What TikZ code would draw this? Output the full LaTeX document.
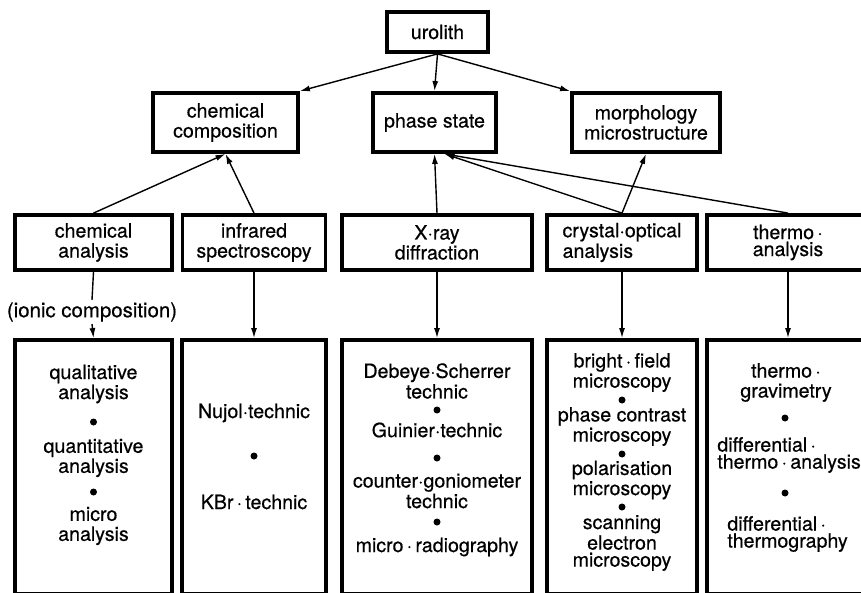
\documentclass[tikz,border=0pt]{standalone}
\usepackage{fontspec}
\setmainfont{TeX Gyre Heros}[FakeBold=0.5]
\usetikzlibrary{arrows.meta,calc,positioning}

\begin{document}
\begin{tikzpicture}[
  x=0.5pt, y=-0.5pt,
  every node/.style={font=\fontsize{9.8}{10}\selectfont},
  box/.style={draw=black,line width=1.9pt,inner sep=0pt,align=center},
  topbox/.style={box,minimum height=29.5pt},
  methbox/.style={box,minimum height=27.5pt},
  listbox/.style={box,minimum height=127pt},
  item/.style={align=center,inner sep=0pt},
  tight/.style={item,font=\fontsize{9.8}{8.5}\selectfont},
  bullet/.style={circle,fill=black,inner sep=0pt,minimum size=3.5pt},
  link/.style={-{Latex[length=5pt,width=3pt]},line width=0.7pt}
]
\useasboundingbox (0,0) rectangle (861,593);
\clip (0,0) rectangle (861,593);

% stone and the three things looked at
\node[box,minimum width=50.5pt,minimum height=20pt] (uro) at (437.5,32) {urolith};
\node[topbox,minimum width=72.5pt] (chem)  at (225.5,122.5) {chemical\\composition};
\node[topbox,minimum width=61.5pt] (phase) at (434.5,122.5) {phase state};
\node[topbox,minimum width=74pt]   (morph) at (646,122.5)   {morphology\\microstructure};

% methods
\node[methbox,minimum width=78.5pt] (ca)  at (93.5,242.5) {chemical\\analysis};
\node[methbox,minimum width=71.5pt] (ir)  at (254,242.5)  {infrared\\spectroscopy};
\node[methbox,minimum width=95pt]   (xrd) at (437,242.5)  {X·ray\\diffraction};
\node[methbox,minimum width=75pt,align=left,font=\fontsize{9.8}{8.5}\selectfont]
  (cop) at (622,242.5) {crystal·optical\\analysis};
\node[methbox,minimum width=81pt,font=\fontsize{9.8}{8.5}\selectfont]
  (tha) at (788,242.5) {thermo\,·\\analysis};

\node[inner sep=1pt,font=\fontsize{10.2}{11}\selectfont] (ionic) at (92,312) {(ionic composition)};

% technique lists
\node[listbox,minimum width=78.5pt] (caL)  at (93.5,467) {};
\node[listbox,minimum width=72pt]   (irL)  at (254,467)  {};
\node[listbox,minimum width=95pt]   (xrdL) at (437,467)  {};
\node[listbox,minimum width=75pt]   (copL) at (622,467)  {};
\node[listbox,minimum width=81pt]   (thaL) at (788,467)  {};

% arrows
\draw[link] (uro.south) -- (chem.north east);
\draw[link] (uro.south) -- (phase.north);
\draw[link] (uro.south) -- (morph.north west);
\draw[link] (ca.north) -- (chem.south);
\draw[link] (ir.north) -- (chem.south);
\draw[link] (xrd.north) -- (phase.south);
\draw[link] (cop.north) -- ($(phase.south)+(10,0)$);
\draw[link] (tha.north) -- ($(phase.south)+(10,0)$);
\draw[link] (cop.north) -- (morph.south);

\draw[line width=0.7pt] (ca.south) -- (ionic.north);
\draw[link] (ionic.south) -- (caL.north);
\draw[link] (ir.south) -- (irL.north);
\draw[link] (xrd.south) -- (xrdL.north);
\draw[link] (cop.south) -- (copL.north);
\draw[link] (tha.south) -- (thaL.north);

% chemical analysis
\node[item] (ca1) at (93.5,384) {qualitative\\analysis};
\node[bullet] (caB1) at (93.5,422) {};
\node[item] (ca2) at (93.5,458) {quantitative\\analysis};
\node[bullet] (caB2) at (93.5,492) {};
\node[item] (ca3) at (93.5,526) {micro\\analysis};

% infrared
\node[item] (ir1) at (254,413) {Nujol·technic};
\node[bullet] (irB1) at (254,456) {};
\node[item] (ir2) at (254,502) {KBr\,·\,technic};

% X-ray
\node[tight] (xrd1) at (437,381) {Debeye·Scherrer\\technic};
\node[bullet] (xrdB1) at (437,410) {};
\node[item] (xrd2) at (437,430) {Guinier·technic};
\node[bullet] (xrdB2) at (437,458) {};
\node[tight] (xrd3) at (437,491) {counter·goniometer\\technic};
\node[bullet] (xrdB3) at (437,522) {};
\node[item] (xrd4) at (437,547) {micro\,·\,radiography};

% crystal-optical
\node[tight] (cop1) at (622,372.5) {bright\,·\,field\\microscopy};
\node[bullet] (copB1) at (622,400) {};
\node[tight] (cop2) at (622,426.5) {phase contrast\\microscopy};
\node[bullet] (copB2) at (622,454) {};
\node[tight] (cop3) at (622,480) {polarisation\\microscopy};
\node[bullet] (copB3) at (622,507) {};
\node[tight] (cop4) at (622,543) {scanning\\electron\\microscopy};

% thermo-analysis
\node[item] (tha1) at (786,382.5) {thermo\,·\\gravimetry};
\node[bullet] (thaB1) at (785,418) {};
\node[tight,anchor=west,align=left] (tha2) at (717,455) {differential\,·\\thermo\,·\,analysis};
\node[bullet] (thaB2) at (785,493) {};
\node[tight,anchor=west,align=left] (tha3) at (727,534) {differential\,·\\thermography};
\end{tikzpicture}
\end{document}
